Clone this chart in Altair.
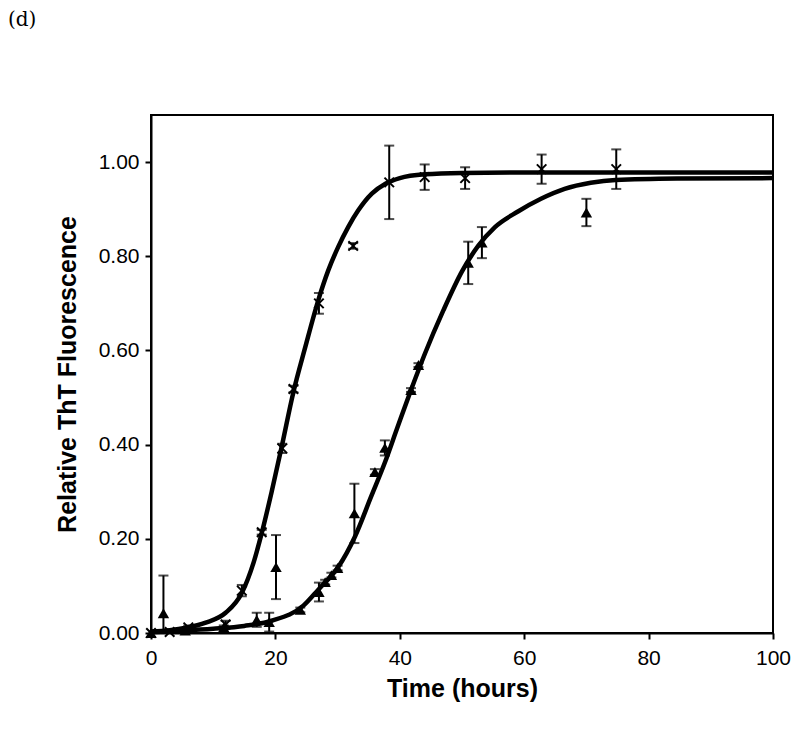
import altair as alt
import pandas as pd

# ---- data ----
# Series 1 (x markers)
x_time = [0, 3, 6, 12, 14.6, 17.8, 21.1, 22.9, 27, 32.5, 38.3, 44, 50.5, 62.8, 74.8]
x_val = [0.0, 0.002, 0.012, 0.018, 0.09, 0.214, 0.392, 0.518, 0.70, 0.822, 0.957, 0.968, 0.966, 0.985, 0.985]
x_err = [0.003, 0.002, 0.004, 0.008, 0.012, 0.005, 0.010, 0.007, 0.022, 0.006, 0.078, 0.027, 0.023, 0.031, 0.042]

# Series 2 (triangles)
t_time = [0, 2, 5.5, 11.7, 17, 19, 20.1, 24, 27, 28, 29, 30, 32.7, 36, 37.6, 41.8, 43, 51, 53.2, 70]
t_val = [0.0, 0.042, 0.005, 0.012, 0.028, 0.023, 0.14, 0.049, 0.087, 0.108, 0.123, 0.138, 0.254, 0.342, 0.393, 0.516, 0.569, 0.786, 0.829, 0.893]
t_err = [0.003, 0.08, 0.004, 0.004, 0.015, 0.02, 0.068, 0.005, 0.02, 0.005, 0.005, 0.005, 0.063, 0.006, 0.016, 0.004, 0.004, 0.045, 0.033, 0.029]

# Fitted curves
ca_time = [0, 3, 5.6, 8.8, 12, 14.6, 16.5, 17.8, 19.4, 21, 22.9, 24.8, 26.9, 28.5, 30.1, 31.7, 33.3, 35.5, 37.7, 40, 44, 50, 60, 80, 100]
ca_val = [0.003, 0.006, 0.011, 0.022, 0.043, 0.085, 0.15, 0.212, 0.30, 0.395, 0.512, 0.607, 0.707, 0.77, 0.82, 0.862, 0.897, 0.933, 0.954, 0.966, 0.974, 0.977, 0.978, 0.978, 0.978]

cb_time = [0, 5, 10, 15, 19.4, 24.5, 26.9, 30.1, 32.8, 35.4, 37.6, 39.5, 41.8, 44, 47, 50, 52.6, 55.3, 59, 62.7, 66.5, 70.7, 74.7, 84.6, 100]
cb_val = [0.002, 0.005, 0.009, 0.015, 0.026, 0.058, 0.092, 0.14, 0.205, 0.29, 0.362, 0.432, 0.516, 0.592, 0.685, 0.768, 0.822, 0.862, 0.895, 0.922, 0.943, 0.956, 0.962, 0.965, 0.966]

x_ticks = [0, 20, 40, 60, 80, 100]
y_ticks = [0.0, 0.2, 0.4, 0.6, 0.8, 1.0]

# ---- tables ----
df_x = pd.DataFrame({"t": x_time, "v": x_val, "e": x_err})
df_x["lo"] = df_x["v"] - df_x["e"]
df_x["hi"] = df_x["v"] + df_x["e"]
df_t = pd.DataFrame({"t": t_time, "v": t_val, "e": t_err})
df_t["lo"] = df_t["v"] - df_t["e"]
df_t["hi"] = df_t["v"] + df_t["e"]
df_err = pd.concat([df_x, df_t], ignore_index=True)
df_ca = pd.DataFrame({"t": ca_time, "v": ca_val})
df_cb = pd.DataFrame({"t": cb_time, "v": cb_val})

W, H = 622, 518

xs = alt.Scale(domain=[0, 100], nice=False, zero=False)
ys = alt.Scale(domain=[0, 1.1], nice=False, zero=False)

x_axis = alt.Axis(values=x_ticks, format="d", title="Time (hours)", grid=False,
                  labelFontSize=21, labelFont="Liberation Sans", labelColor="black",
                  labelPadding=8, labelFlush=False, tickSize=6, tickWidth=2, tickColor="black",
                  domainColor="black", domainWidth=2,
                  titleFont="Liberation Sans", titleFontSize=25, titleFontWeight="bold",
                  titleColor="black", titlePadding=8)
y_axis = alt.Axis(values=y_ticks, format=".2f", title="Relative ThT Fluorescence", grid=False,
                  labelFontSize=21, labelFont="Liberation Sans", labelColor="black",
                  labelPadding=6, labelFlush=False, tickSize=6, tickWidth=2, tickColor="black",
                  domainColor="black", domainWidth=2,
                  titleFont="Liberation Sans", titleFontSize=25, titleFontWeight="bold",
                  titleColor="black", titlePadding=18)

X = alt.X("t:Q", scale=xs, axis=x_axis)
Y = alt.Y("v:Q", scale=ys, axis=y_axis)

curve_a = alt.Chart(df_ca).mark_line(color="black", strokeWidth=4.5, interpolate="monotone").encode(x=X, y=Y)
curve_b = alt.Chart(df_cb).mark_line(color="black", strokeWidth=4.5, interpolate="monotone").encode(x="t:Q", y="v:Q")

err_rule = alt.Chart(df_err).mark_rule(color="black", strokeWidth=2, clip=True).encode(
    x="t:Q", y="lo:Q", y2="hi:Q")
cap_lo = alt.Chart(df_err).mark_tick(color="black", thickness=2, size=10, orient="horizontal", clip=True).encode(
    x="t:Q", y="lo:Q")
cap_hi = alt.Chart(df_err).mark_tick(color="black", thickness=2, size=10, orient="horizontal", clip=True).encode(
    x="t:Q", y="hi:Q")

pts_x = alt.Chart(df_x).mark_point(shape="M-1,-1L1,1M-1,1L1,-1", filled=False, color="black",
                                   strokeWidth=2, size=90, opacity=1).encode(x="t:Q", y="v:Q")
pts_t = alt.Chart(df_t).mark_point(shape="triangle-up", filled=True, color="black",
                                   size=130, opacity=1).encode(x="t:Q", y="v:Q")

label = alt.Chart(pd.DataFrame({"s": ["(d)"]})).mark_text(
    font="DejaVu Serif", fontSize=20, align="left", baseline="middle", color="black"
).encode(x=alt.value(-143), y=alt.value(-95), text="s:N")

chart = alt.layer(curve_a, curve_b, err_rule, cap_lo, cap_hi, pts_x, pts_t, label).properties(
    width=W, height=H,
    autosize=alt.AutoSizeParams(type="none"),
    padding={"left": 143, "top": 107, "right": 19, "bottom": 93},
    background="white",
).configure_view(stroke="black", strokeWidth=2)

chart.save("out.html", embed_options={"renderer": "svg", "actions": False})
